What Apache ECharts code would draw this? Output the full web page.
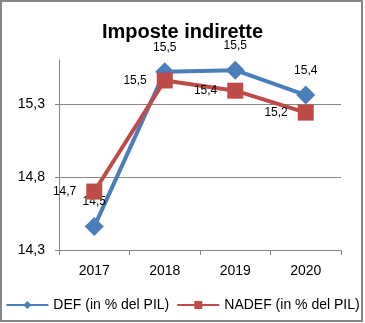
<!DOCTYPE html>
<html>
<head>
<meta charset="utf-8">
<script src="https://cdn.jsdelivr.net/npm/echarts@6/dist/echarts.min.js"></script>
<style>
  html, body { margin: 0; padding: 0; background: #fff; }
  #chart { width: 365px; height: 323px; }
</style>
</head>
<body>
<div id="chart"></div>
<script>
// Indirect taxes as a share of GDP: DEF vs NADEF projections
const years = ['2017', '2018', '2019', '2020'];
const defValues = [14.46, 15.52, 15.53, 15.36];
const nadefValues = [14.70, 15.46, 15.39, 15.24];
const seriesNames = ['DEF (in % del PIL)', 'NADEF (in % del PIL)'];
const titleText = 'Imposte indirette';

const FONT = '"Liberation Sans", Arial, sans-serif';
const BLUE = '#4A7EBB';
const RED = '#BE4B48';
const GRAY = '#868686';

const fmt = v => v.toFixed(1).replace('.', ',');

const chart = echarts.init(document.getElementById('chart'), null, { renderer: 'canvas' });
chart.setOption({
  animation: false,
  backgroundColor: '#fff',
  textStyle: { fontFamily: FONT, color: '#000' },
  title: {
    text: titleText,
    left: 'center',
    top: 17,
    textStyle: { fontFamily: FONT, fontSize: 20, fontWeight: 'bold', color: '#000' }
  },
  graphic: [{
    type: 'rect',
    shape: { x: 1, y: 1, width: 361, height: 320 },
    style: { fill: 'none', stroke: GRAY, lineWidth: 2 },
    silent: true,
    z: 100
  }],
  grid: { left: 59, right: 24, top: 60, bottom: 73 },
  legend: {
    bottom: 6,
    left: 'center',
    itemWidth: 42,
    itemHeight: 10,
    itemGap: 7,
    textStyle: { fontFamily: FONT, fontSize: 14, color: '#000' },
    data: seriesNames
  },
  xAxis: {
    type: 'category',
    data: years,
    boundaryGap: true,
    axisLine: { lineStyle: { color: GRAY, width: 1 } },
    axisTick: { show: true, length: 5, alignWithLabel: false, lineStyle: { color: GRAY } },
    axisLabel: { fontFamily: FONT, fontSize: 14, color: '#000', margin: 14 }
  },
  yAxis: {
    type: 'value',
    min: 14.3,
    max: 15.6,
    interval: 0.5,
    axisLine: { show: true, lineStyle: { color: GRAY, width: 1 } },
    axisTick: { show: true, length: 4, lineStyle: { color: GRAY } },
    splitLine: { show: true, showMaxLine: false, lineStyle: { color: GRAY, width: 1 } },
    axisLabel: {
      fontFamily: FONT, fontSize: 14, color: '#000', margin: 14,
      showMaxLabel: false,
      formatter: v => fmt(v)
    }
  },
  series: [
    {
      name: seriesNames[0],
      type: 'line',
      data: defValues,
      symbol: 'diamond',
      symbolSize: 19,
      itemStyle: { color: BLUE },
      lineStyle: { color: BLUE, width: 4 },
      label: {
        show: true,
        position: 'top',
        distance: 9,
        fontFamily: FONT,
        fontSize: 12,
        color: '#000',
        formatter: p => fmt(p.value)
      },
      z: 2
    },
    {
      name: seriesNames[1],
      type: 'line',
      data: nadefValues,
      symbol: 'rect',
      symbolSize: 16,
      itemStyle: { color: RED },
      lineStyle: { color: RED, width: 4 },
      label: {
        show: true,
        position: 'left',
        distance: 10,
        fontFamily: FONT,
        fontSize: 12,
        color: '#000',
        formatter: p => fmt(p.value)
      },
      z: 3
    }
  ]
});
</script>
</body>
</html>
